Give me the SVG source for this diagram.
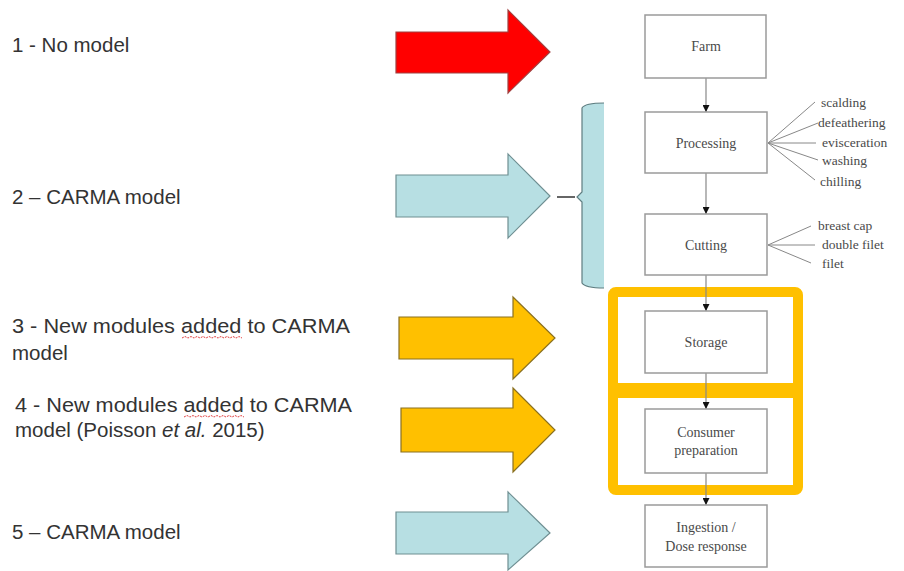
<svg xmlns="http://www.w3.org/2000/svg" width="904" height="571" viewBox="0 0 904 571">
<defs>
<style>
.lbl{font-family:"Liberation Sans",Arial,sans-serif;font-size:20.5px;fill:#333}
.box{fill:#fff;stroke:#9a9a9a;stroke-width:1.5}
.nt{font-family:"Liberation Serif","Times New Roman",serif;font-size:14px;fill:#4a4a4a;text-anchor:middle}
.ft{font-family:"Liberation Serif","Times New Roman",serif;font-size:13.5px;fill:#4a4a4a}
.fan{stroke:#888;stroke-width:1;fill:none}
.con{stroke:#888;stroke-width:1.2;fill:none}
.frame{fill:none;stroke:#ffc000;stroke-width:10}
.red{fill:#ff0000;stroke:#a04040;stroke-width:1.2}
.teal{fill:#b7dfe3;stroke:#6f8f92;stroke-width:1.2}
.gold{fill:#ffc000;stroke:#8a7020;stroke-width:1.2}
.squig{stroke:#e04040;stroke-width:1;fill:none;stroke-dasharray:2 1}
</style>
<marker id="ah" viewBox="0 0 10 10" refX="10" refY="5" markerWidth="7" markerHeight="7" markerUnits="userSpaceOnUse" orient="auto">
<path d="M0,0 L10,5 L0,10 Z" fill="#111"/>
</marker>
</defs>
<rect width="904" height="571" fill="#fff"/>

<g id="labels">
<text class="lbl" x="12" y="52">1 - No model</text>
<text class="lbl" x="12" y="204">2 – CARMA model</text>
<text class="lbl" x="12" y="333" textLength="338" lengthAdjust="spacingAndGlyphs">3 - New modules added to CARMA</text>
<text class="lbl" x="12" y="360">model</text>
<text class="lbl" x="15" y="412" textLength="337" lengthAdjust="spacingAndGlyphs">4 - New modules added to CARMA</text>
<text class="lbl" x="15" y="437">model (Poisson <tspan font-style="italic">et al.</tspan> 2015)</text>
<text class="lbl" x="12" y="539">5 – CARMA model</text>
<path class="squig" d="M182,338 l3,-1.5 l3,1.5 l3,-1.5 l3,1.5 l3,-1.5 l3,1.5 l3,-1.5 l3,1.5 l3,-1.5 l3,1.5 l3,-1.5 l3,1.5 l3,-1.5 l3,1.5 l3,-1.5 l3,1.5 l3,-1.5 l3,1.5 l3,-1.5 l3,1.5"/>
<path class="squig" d="M184,417 l3,-1.5 l3,1.5 l3,-1.5 l3,1.5 l3,-1.5 l3,1.5 l3,-1.5 l3,1.5 l3,-1.5 l3,1.5 l3,-1.5 l3,1.5 l3,-1.5 l3,1.5 l3,-1.5 l3,1.5 l3,-1.5 l3,1.5 l3,-1.5 l3,1.5"/>
</g>

<g id="arrows">
<polygon class="red" points="396,32 508,32 508,10 550,52 508,93 508,73 396,73"/>
<polygon class="teal" points="396,175 508,175 508,154 550,196 508,238 508,217 396,217"/>
<polygon class="gold" points="399,317 513,317 513,297 555,338 513,379 513,359 399,359"/>
<polygon class="gold" points="401,408 513,408 513,388 555,430 513,472 513,452 401,452"/>
<polygon class="teal" points="396,512 508,512 508,492 550,533 508,570 508,554 396,554"/>
</g>

<g id="bracket">
<path d="M604,103 Q585,103 582,108 L582,192 L577,197 L582,202 L582,283 Q585,288 604,288 Z" fill="#b7dfe3"/>
<path d="M604,103 Q585,103 582,108 L582,192 L577,197 L582,202 L582,283 Q585,288 604,288" fill="none" stroke="#5f7d80" stroke-width="1.2"/>
<line x1="557" y1="197" x2="575" y2="197" stroke="#333" stroke-width="1.5"/>
</g>

<g id="frames">
<rect class="frame" x="613" y="292" width="185" height="198" rx="3"/>
<rect x="613" y="383" width="185" height="15" fill="#ffc000"/>
</g>

<g id="connectors">
<line class="con" x1="706" y1="78" x2="706" y2="112" marker-end="url(#ah)"/>
<line class="con" x1="706" y1="173" x2="706" y2="214" marker-end="url(#ah)"/>
<line class="con" x1="706" y1="275" x2="706" y2="311" marker-end="url(#ah)"/>
<line class="con" x1="706" y1="373" x2="706" y2="409" marker-end="url(#ah)"/>
<line class="con" x1="706" y1="473" x2="706" y2="505" marker-end="url(#ah)"/>
<path class="fan" d="M768,143 L815,102 M768,143 L818,123 M768,143 L816,143 M768,143 L818,160 M768,143 L815,180"/>
<path class="fan" d="M768,245 L811,226 M768,245 L815,245 M768,245 L811,263"/>
</g>

<g id="farm">
<rect class="box" x="645" y="15" width="121" height="63"/>
<text class="nt" x="706" y="51">Farm</text>
</g>
<g id="processing">
<rect class="box" x="645" y="112" width="122" height="61"/>
<text class="nt" x="706" y="148">Processing</text>
<text class="ft" x="821" y="107">scalding</text>
<text class="ft" x="818" y="127">defeathering</text>
<text class="ft" x="822" y="147">evisceration</text>
<text class="ft" x="822" y="165">washing</text>
<text class="ft" x="820" y="186">chilling</text>
</g>
<g id="cutting">
<rect class="box" x="645" y="214" width="122" height="61"/>
<text class="nt" x="706" y="250">Cutting</text>
<text class="ft" x="818" y="230">breast cap</text>
<text class="ft" x="822" y="249">double filet</text>
<text class="ft" x="822" y="268">filet</text>
</g>
<g id="storage">
<rect class="box" x="645" y="311" width="122" height="62"/>
<text class="nt" x="706" y="347">Storage</text>
</g>
<g id="consumer">
<rect class="box" x="645" y="409" width="122" height="64"/>
<text class="nt" x="706" y="437">Consumer</text>
<text class="nt" x="706" y="455">preparation</text>
</g>
<g id="ingestion">
<rect class="box" x="645" y="505" width="122" height="62"/>
<text class="nt" x="706" y="532">Ingestion /</text>
<text class="nt" x="706" y="551">Dose response</text>
</g>
</svg>
